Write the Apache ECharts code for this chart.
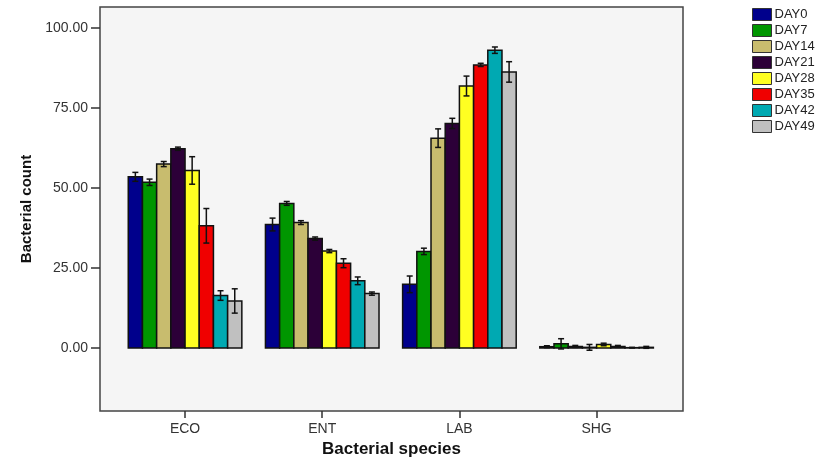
<!DOCTYPE html>
<html>
<head>
<meta charset="utf-8">
<script src="https://cdn.jsdelivr.net/npm/echarts@6/dist/echarts.min.js"></script>
<style>
  html, body { margin: 0; padding: 0; background: #fff; }
  #chart { width: 830px; height: 461px; }
</style>
</head>
<body>
<div id="chart"></div>
<script>
// categories on the x axis
const species = ["ECO", "ENT", "LAB", "SHG"];
const days = ["DAY0", "DAY7", "DAY14", "DAY21", "DAY28", "DAY35", "DAY42", "DAY49"];
const yTicks = [0, 25, 50, 75, 100];

// mean counts per day, in species order ECO, ENT, LAB, SHG
const day0 = [53.5, 38.6, 19.9, 0.4];
const day7 = [51.8, 45.2, 30.2, 1.3];
const day14 = [57.5, 39.2, 65.6, 0.5];
const day21 = [62.3, 34.2, 70.2, 0.2];
const day28 = [55.5, 30.3, 81.9, 1.1];
const day35 = [38.2, 26.5, 88.5, 0.5];
const day42 = [16.4, 21.0, 93.1, 0.1];
const day49 = [14.7, 17.0, 86.3, 0.2];

// error bar half-lengths
const err0 = [1.4, 2.0, 2.6, 0.3];
const err7 = [1.0, 0.6, 1.0, 1.6];
const err14 = [0.8, 0.6, 2.9, 0.3];
const err21 = [0.5, 0.5, 1.6, 0.9];
const err28 = [4.3, 0.5, 3.1, 0.4];
const err35 = [5.4, 1.4, 0.5, 0.3];
const err42 = [1.5, 1.2, 1.0, 0.1];
const err49 = [3.8, 0.5, 3.2, 0.3];

const means = [day0, day7, day14, day21, day28, day35, day42, day49];
const errs = [err0, err7, err14, err21, err28, err35, err42, err49];
const colors = ["#00008c", "#009600", "#c8bc6e", "#2c0038", "#ffff22", "#f00000", "#00a9b2", "#c0c0c0"];

const chart = echarts.init(document.getElementById("chart"));

const BAR_FRACTION = 0.1035; // each bar as a share of one category step

function makeRender(s) {
  return function (params, api) {
    const x = api.value(0);
    const y = api.value(1);
    const e = api.value(2);
    const unit = api.size([1, 0])[0];
    const bw = unit * BAR_FRACTION;
    const base = api.coord([x, 0]);
    const cx = base[0] + (s - 3.5) * bw;
    const top = api.coord([x, y])[1];
    const eTop = api.coord([x, y + e])[1];
    const eBot = api.coord([x, y - e])[1];
    const cap = 3;
    const line = { stroke: "#111", lineWidth: 1.5 };
    return {
      type: "group",
      children: [
        {
          type: "rect",
          shape: { x: cx - bw / 2, y: Math.min(top, base[1]), width: bw, height: Math.abs(base[1] - top) },
          style: { fill: api.visual("color"), stroke: "#111", lineWidth: 1.5 }
        },
        { type: "line", shape: { x1: cx, y1: eTop, x2: cx, y2: eBot }, style: line },
        { type: "line", shape: { x1: cx - cap, y1: eTop, x2: cx + cap, y2: eTop }, style: line },
        { type: "line", shape: { x1: cx - cap, y1: eBot, x2: cx + cap, y2: eBot }, style: line }
      ]
    };
  };
}

const series = days.map((d, s) => ({
  name: d,
  type: "custom",
  renderItem: makeRender(s),
  itemStyle: { color: colors[s] },
  encode: { x: 0, y: 1 },
  data: species.map((c, i) => [i, means[s][i], errs[s][i]])
}));

const option = {
  animation: false,
  textStyle: { fontFamily: "Liberation Sans, Arial, sans-serif" },
  legend: {
    orient: "vertical",
    left: 752,
    top: 8,
    padding: 0,
    itemWidth: 19,
    itemHeight: 12,
    itemGap: 3,
    icon: "rect",
    itemStyle: { borderColor: "#333", borderWidth: 1 },
    textStyle: { fontSize: 13, color: "#222", padding: [0, 0, 0, -2] },
    data: days
  },
  grid: {
    left: 100,
    top: 7,
    right: 147,
    bottom: 50,
    outerBoundsMode: "none",
    show: true,
    backgroundColor: "#f5f5f5",
    borderColor: "#444",
    borderWidth: 1.5
  },
  xAxis: {
    type: "value",
    min: -0.62,
    max: 3.63,
    name: "Bacterial species",
    nameLocation: "middle",
    nameGap: 29,
    nameTextStyle: { fontSize: 17, fontWeight: "bold", color: "#111" },
    axisLine: { show: false, onZero: false },
    splitLine: { show: false },
    axisTick: { show: true, length: 7, customValues: [0, 1, 2, 3], lineStyle: { color: "#333", width: 1.5 } },
    axisLabel: {
      customValues: [0, 1, 2, 3],
      formatter: (v) => species[Math.round(v)],
      fontSize: 14,
      color: "#333",
      margin: 11
    }
  },
  yAxis: {
    type: "value",
    min: -19.7,
    max: 106.6,
    name: "Bacterial count",
    nameLocation: "middle",
    nameGap: 64,
    nameTextStyle: { fontSize: 15, fontWeight: "bold", color: "#111" },
    axisLine: { show: false, onZero: false },
    splitLine: { show: false },
    axisTick: { show: true, length: 9, customValues: yTicks, lineStyle: { color: "#333", width: 1.5 } },
    axisLabel: {
      customValues: yTicks,
      formatter: (v) => v.toFixed(2),
      fontSize: 14,
      color: "#333",
      margin: 12
    }
  },
  series: series
};

chart.setOption(option);
</script>
</body>
</html>
